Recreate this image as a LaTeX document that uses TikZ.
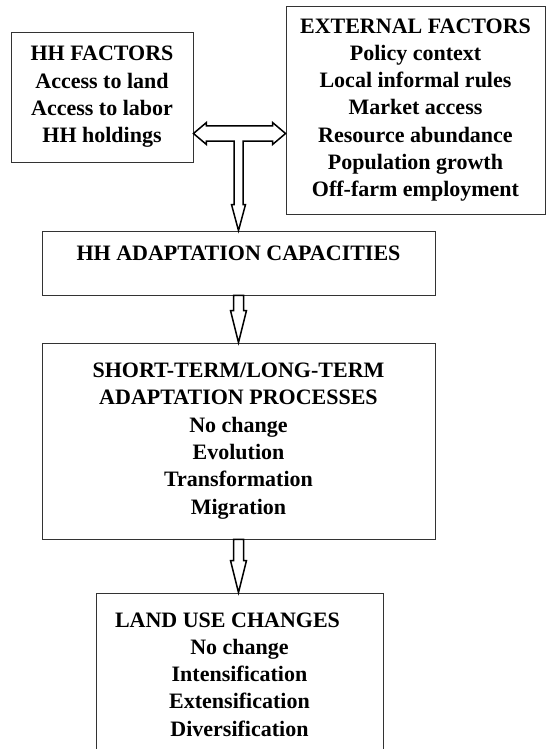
\documentclass[tikz,border=0pt]{standalone}
\usepackage{fontspec}
\setmainfont{Liberation Serif}
\usepackage{tikz}
\usetikzlibrary{calc}

\begin{document}
\begin{tikzpicture}[x=1pt,y=-1pt,font=\fontsize{22}{27.3}\selectfont\bfseries]
    %styles
    \tikzstyle{factor}=[rectangle,draw=black!80,line width=0.9pt,align=center,inner sep=0pt]
    \tikzstyle{hollow}=[draw=black,line width=1.5pt,fill=white,line join=miter]
    \useasboundingbox (0,0) rectangle (547,749);
    %nodes
    \node[factor,minimum width=182pt,minimum height=130pt] (hh) at (102,97)
        {HH FACTORS\\Access to land\\Access to labor\\HH holdings};
    \node[factor,minimum width=259pt,minimum height=208pt] (ext) at (415.5,110)
        {EXTERNAL FACTORS\\Policy context\\Local informal rules\\Market access\\Resource abundance\\Population growth\\Off-farm employment};
    \node[factor,minimum width=393pt,minimum height=64pt,text depth=20pt] (cap) at (238.5,263)
        {HH ADAPTATION CAPACITIES};
    \node[factor,minimum width=393pt,minimum height=196pt] (proc) at (238.5,441)
        {SHORT-TERM/LONG-TERM\\ADAPTATION PROCESSES\\No change\\Evolution\\Transformation\\Migration};
    \node[factor,minimum width=287pt,minimum height=163pt] (luc) at (239.5,674.5)
        {LAND USE CHANGES\hspace*{24pt}\\No change\\Intensification\\Extensification\\Diversification};
    \coordinate (tj) at (238.5,133.5);

    %arrows
    \draw[hollow] let \p1=(hh.east), \p2=(ext.west), \p3=(tj), \p4=(cap.north) in
        (\x1,\y3) -- (\x1+13pt,\y3+11pt) -- (\x1+13pt,\y3+7.5pt) -- (\x2-13pt,\y3+7.5pt)
        -- (\x2-13pt,\y3+11pt) -- (\x2,\y3) -- (\x2-13pt,\y3-11pt) -- (\x2-13pt,\y3-7.5pt)
        -- (\x3+4.5pt,\y3-7.5pt) -- (\x3+4.5pt,\y4+26pt) -- (\x3+7pt,\y4+26pt) -- (\x3,\y4)
        -- (\x3-7pt,\y4+26pt) -- (\x3-4.5pt,\y4+26pt) -- (\x3-4.5pt,\y3-7.5pt)
        -- (\x1+13pt,\y3-7.5pt) -- (\x1+13pt,\y3-11pt) -- cycle;
    \foreach \a/\b in {cap/proc,proc/luc}
        \draw[hollow] let \p1=(\a.south), \p2=(\b.north) in
            (\x1-5pt,\y1) -- (\x1-5pt,\y2+32pt) -- (\x1-8pt,\y2+32pt) -- (\x1,\y2)
            -- (\x1+8pt,\y2+32pt) -- (\x1+5pt,\y2+32pt) -- (\x1+5pt,\y1) -- cycle;
\end{tikzpicture}
\end{document}
